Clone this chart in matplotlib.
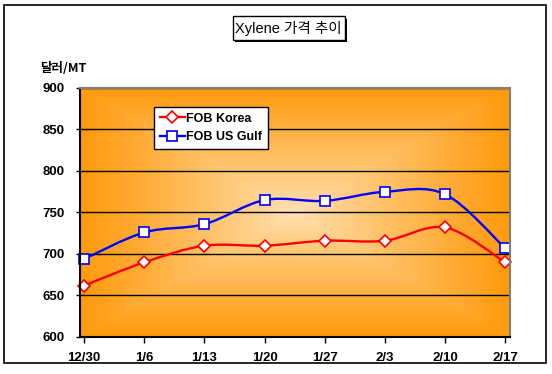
import numpy as np
import matplotlib
matplotlib.use("Agg")
import matplotlib.pyplot as plt
from matplotlib.path import Path
from matplotlib.patches import PathPatch, Rectangle
from matplotlib.colors import to_rgb

plt.rcParams['font.family'] = ['Liberation Sans', 'Noto Sans CJK KR', 'DejaVu Sans']

# data
dates = ['12/30', '1/6', '1/13', '1/20', '1/27', '2/3', '2/10', '2/17']
fob_korea = [662, 690, 710, 710, 716, 716, 732, 690]
fob_usgulf = [694, 726, 736, 765, 764, 775, 772, 707]
yticks = [600, 650, 700, 750, 800, 850, 900]

W, H = 552, 374
def px(x, y):
    return x / W, 1 - y / H

fig = plt.figure(figsize=(W / 100, H / 100), dpi=100)
fig.patch.set_facecolor('white')

# outer border
x0, y0 = px(4, 363)
fig.patches.append(Rectangle((x0, y0), 542 / W, 358 / H, transform=fig.transFigure,
                             fill=False, edgecolor='black', linewidth=1.2))

l, b = px(80, 337)
ax = fig.add_axes([l, b, 430 / W, 249 / H])

# gradient background (rectangular, light centre)
n = 300
u = np.linspace(-1, 1, n)
U, V = np.meshgrid(u, u)
d = np.maximum(np.abs(U), np.abs(V))
d = np.clip(d, 0, 1) ** 0.9
c_in = np.array(to_rgb('#FFE2B4'))
c_out = np.array(to_rgb('#FF9A0C'))
img = c_in[None, None, :] * (1 - d[..., None]) + c_out[None, None, :] * d[..., None]
ax.imshow(img, extent=[0, 1, 0, 1], transform=ax.transAxes, aspect='auto', zorder=0)

x = np.arange(len(dates))

def smooth_path(xs, ys):
    P = np.column_stack([xs, ys]).astype(float)
    verts = [P[0]]
    codes = [Path.MOVETO]
    for i in range(len(P) - 1):
        p0 = P[i - 1] if i > 0 else P[i]
        p3 = P[i + 2] if i + 2 < len(P) else P[i + 1]
        c1 = P[i] + (P[i + 1] - p0) / 6
        c2 = P[i + 1] - (p3 - P[i]) / 6
        verts += [c1, c2, P[i + 1]]
        codes += [Path.CURVE4] * 3
    return Path(verts, codes)

for ys, col, mk, ms, lab in [(fob_korea, '#FF0000', 'D', 6.5, 'FOB Korea'),
                             (fob_usgulf, '#0000FF', 's', 7.5, 'FOB US Gulf')]:
    ax.add_patch(PathPatch(smooth_path(x, ys), facecolor='none', edgecolor=col,
                           linewidth=1.7, zorder=3, clip_on=False))
    ax.plot(x, ys, linestyle='none', marker=mk, markersize=ms, markerfacecolor='white',
            markeredgecolor=col, markeredgewidth=1.2, zorder=4, clip_on=False)
    ax.plot([], [], color=col, linewidth=1.7, marker=mk, markersize=ms,
            markerfacecolor='white', markeredgecolor=col, markeredgewidth=1.2, label=lab)

ax.set_xlim(-0.07, 7.08)
ax.set_ylim(600, 900)
ax.set_xticks(x)
ax.set_xticklabels(dates)
ax.set_yticks(yticks)
ax.yaxis.grid(True, color='black', linewidth=1)
ax.set_axisbelow(False)
for gl in ax.get_ygridlines():
    gl.set_zorder(1)

ax.tick_params(axis='x', direction='out', length=4, width=1, pad=7, labelsize=9.5)
ax.tick_params(axis='y', direction='out', length=3, width=1, pad=8, labelsize=9.5)
for t in ax.get_xticklabels() + ax.get_yticklabels():
    t.set_fontweight('bold')

ax.spines['left'].set_color('black')
ax.spines['bottom'].set_color('black')
ax.spines['top'].set_color('#808080')
ax.spines['right'].set_color('#808080')
for s in ax.spines.values():
    s.set_linewidth(1.5)
    s.set_zorder(5)

leg = ax.legend(loc='upper left', bbox_to_anchor=px(154, 107), bbox_transform=fig.transFigure,
                frameon=True, fancybox=False, edgecolor='black', framealpha=1,
                prop={'size': 9, 'weight': 'bold'}, handlelength=2.0, handletextpad=0.15,
                borderpad=0.45, labelspacing=0.55, borderaxespad=0)
leg.get_frame().set_linewidth(1)
leg.set_zorder(6)

# title box with shadow
tx0, ty0 = px(232.5, 39.5)
fig.patches.append(Rectangle((tx0 + 2.5 / W, ty0 - 2.5 / H), 112 / W, 23 / H, transform=fig.transFigure,
                             facecolor='black', edgecolor='black', linewidth=0))
fig.patches.append(Rectangle((tx0, ty0), 112 / W, 23 / H, transform=fig.transFigure,
                             facecolor='white', edgecolor='black', linewidth=1))
fig.text(*px(288.5, 28.5), 'Xylene 가격 추이', ha='center', va='center', fontsize=10.5,
         family=['Liberation Sans', 'Noto Sans CJK KR'])

fig.text(*px(40, 69), '달러/MT', ha='left', va='center', fontsize=9, fontweight='bold',
         family=['Noto Sans CJK KR', 'Liberation Sans'])

fig.savefig('out.png', dpi=100)
